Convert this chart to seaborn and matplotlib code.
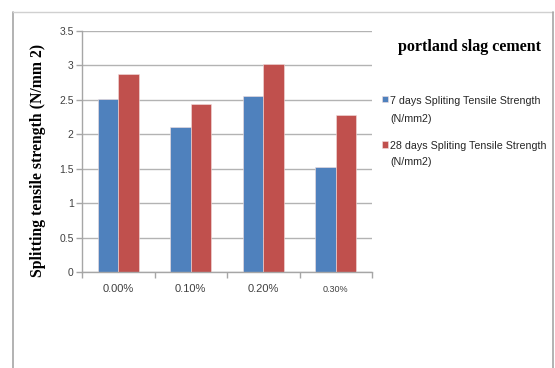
import matplotlib
matplotlib.use("Agg")
import matplotlib.pyplot as plt
import seaborn as sns
import pandas as pd
from matplotlib.lines import Line2D

# Fibre dosage categories and strengths (N/mm2)
dosages = ["0.00%", "0.10%", "0.20%", "0.30%"]
strength_7d = [2.51, 2.11, 2.56, 1.52]
strength_28d = [2.87, 2.44, 3.02, 2.28]
series_names = ["7 days Spliting Tensile Strength\n(N/mm2)",
                "28 days Spliting Tensile Strength\n(N/mm2)"]
y_ticks = [0, 0.5, 1, 1.5, 2, 2.5, 3, 3.5]
y_tick_labels = ["0", "0.5", "1", "1.5", "2", "2.5", "3", "3.5"]

df = pd.DataFrame({
    "dosage": dosages * 2,
    "strength": strength_7d + strength_28d,
    "series": [series_names[0]] * 4 + [series_names[1]] * 4,
})

sns.set_theme(style="white")
plt.rcParams["font.family"] = ["Liberation Sans", "DejaVu Sans"]

fig = plt.figure(figsize=(5.55, 3.68), dpi=100)
ax = fig.add_axes([82 / 555, 1 - 272 / 368, 290 / 555, 241 / 368])

palette = {series_names[0]: "#4F81BD", series_names[1]: "#C0504D"}
sns.barplot(data=df, x="dosage", y="strength", hue="series", order=dosages,
            hue_order=series_names, palette=palette, width=0.57, gap=0,
            saturation=1, edgecolor="#f2dede", linewidth=0.4, ax=ax, legend=True)

ax.set_ylim(0, 3.5)
ax.set_xlim(-0.5, 3.5)
ax.set_yticks(y_ticks)
ax.set_yticklabels(y_tick_labels)
ax.yaxis.grid(True, color="#b3b3b3", linewidth=1.0)
ax.set_axisbelow(True)
for side in ("top", "right"):
    ax.spines[side].set_visible(False)
for side in ("left", "bottom"):
    ax.spines[side].set_color("#a6a6a6")
    ax.spines[side].set_linewidth(1.0)

ax.set_xlabel("")
ax.set_ylabel("Splitting tensile strength (N/mm 2)", family="Liberation Serif",
              fontweight="bold", fontsize=11.3, color="black")
ax.yaxis.set_label_coords(-36 / 290, (272 - 160) / 241)
ax.tick_params(axis="y", which="major", length=4, width=1, color="#a6a6a6",
               labelsize=7.5, labelcolor="#404040", pad=2, left=True)
ax.tick_params(axis="x", which="major", length=0, labelsize=8,
               labelcolor="#404040", pad=9)
ax.set_xticks([-0.5, 0.5, 1.5, 2.5, 3.5], minor=True)
ax.tick_params(axis="x", which="minor", length=4, width=1, color="#a6a6a6", bottom=True)
ax.get_xticklabels()[3].set_fontsize(6.5)

# Legend on the right side of the frame
handles, labels = ax.get_legend_handles_labels()
ax.legend_.remove()
leg = fig.legend(handles, labels, loc="upper left", bbox_to_anchor=(372 / 555, 1 - 86 / 368),
                 frameon=False, fontsize=7.7, handlelength=0.55, handleheight=0.55,
                 handletextpad=0.25, labelspacing=1.6, labelcolor="#262626")
leg.get_texts()[0].set_linespacing(2.05)
leg.get_texts()[1].set_linespacing(1.72)
# keep each swatch beside the first line of its label
for column in leg._legend_handle_box.get_children():
    for row in column.get_children():
        row.align = "top"

fig.text(470 / 555, 1 - 47 / 368, "portland slag cement", family="Liberation Serif",
         fontweight="bold", fontsize=11.5, ha="center", va="center", color="black")

# Outer chart frame
frame_color = "#a6a6a6"
fig.add_artist(Line2D([13 / 555, 13 / 555], [0, 1 - 12 / 368], color=frame_color, lw=1.2))
fig.add_artist(Line2D([13 / 555, 553 / 555], [1 - 12 / 368, 1 - 12 / 368], color="#d0d0d0", lw=1.0))
fig.add_artist(Line2D([553 / 555, 553 / 555], [0, 1 - 12 / 368], color=frame_color, lw=1.2))

fig.savefig("out.png", dpi=100, facecolor="white")
